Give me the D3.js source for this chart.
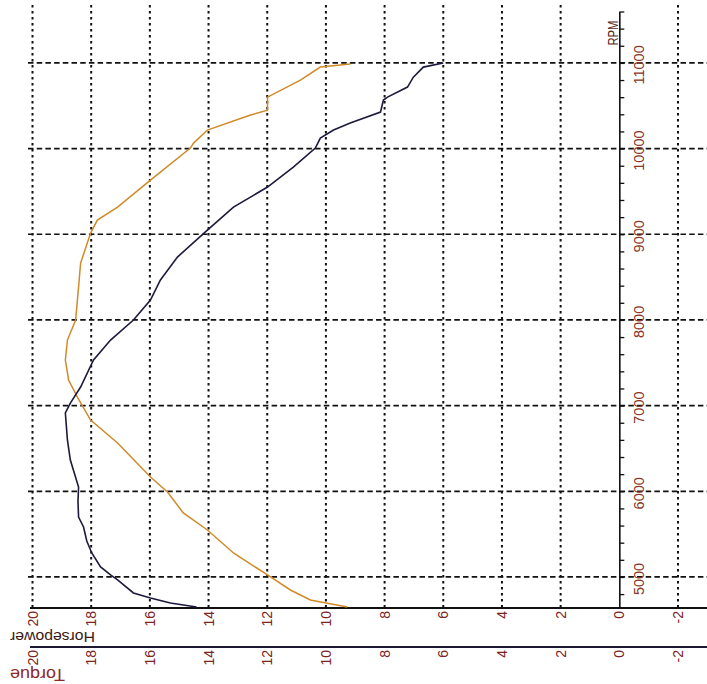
<!DOCTYPE html>
<html>
<head>
<meta charset="utf-8">
<script src="https://cdn.jsdelivr.net/npm/d3@7"></script>
<style>
    body { margin: 0; background: #fff; }
    text { font-family: "Liberation Sans", Arial, sans-serif; }
</style>
</head>
<body>
<div class="svg"></div>
<script>
// dyno sheet, scanned sideways: RPM runs up the page, values run right to left
var torqueRpm = [4650, 4697, 4755, 4813, 4965, 5023, 5117, 5280, 5420, 5583, 5700, 5880, 6050, 6365, 6599, 6914, 7030, 7217, 7532, 7765, 7999, 8232, 8466, 8734, 9049, 9317, 9551, 9784, 10006, 10123, 10216, 10298, 10426, 10566, 10601, 10718, 10834, 10951, 10998];
var torqueVal = [14.41, 15.3, 15.98, 16.56, 17.10, 17.34, 17.68, 17.98, 18.15, 18.26, 18.43, 18.45, 18.43, 18.71, 18.81, 18.88, 18.71, 18.36, 17.92, 17.34, 16.56, 15.98, 15.64, 15.06, 14.04, 13.15, 11.99, 11.11, 10.36, 10.19, 9.74, 9.17, 8.14, 8.04, 7.90, 7.22, 7.02, 6.68, 6.00];

var hpRpm = [4650, 4732, 4848, 5023, 5280, 5548, 5747, 5992, 6167, 6564, 6832, 7100, 7299, 7532, 7765, 7999, 8232, 8384, 8664, 9014, 9166, 9317, 9632, 10006, 10064, 10216, 10391, 10449, 10601, 10799, 10951, 10986];
var hpVal = [9.27, 10.53, 11.21, 11.99, 13.15, 14.04, 14.86, 15.40, 15.98, 17.10, 18.02, 18.47, 18.77, 18.88, 18.81, 18.53, 18.47, 18.43, 18.36, 18.02, 17.79, 17.10, 15.98, 14.62, 14.51, 14.04, 12.57, 11.99, 11.99, 10.87, 10.19, 9.17];

var valueTicks = [20, 18, 16, 14, 12, 10, 8, 6, 4, 2, 0, -2];
var rpmTicks = [5000, 6000, 7000, 8000, 9000, 10000, 11000];

var width = 707,
    height = 684;

var x = d3.scaleLinear()
    .domain([20, -2])
    .range([32.5, 678]);

var y = d3.scaleLinear()
    .domain([4640, 11600])
    .range([607.8, 11.5]);

var svg = d3.select('div.svg')
    .append('svg')
    .attr('width', width)
    .attr('height', height)
    .style('background', '#fff');

var hpAxisY = 608,
    tqAxisY = 647,
    labelColor = '#7a2424';

// vertical dotted grid
svg.append('g')
    .selectAll('line')
    .data(valueTicks.filter(d => d != 0))
    .enter()
    .append('line')
    .attr('x1', d => x(d))
    .attr('x2', d => x(d))
    .attr('y1', 5)
    .attr('y2', hpAxisY)
    .attr('stroke', '#111')
    .attr('stroke-width', 2)
    .attr('stroke-dasharray', '2.6,3.4');

// horizontal dashed grid
svg.append('g')
    .selectAll('line')
    .data(rpmTicks)
    .enter()
    .append('line')
    .attr('x1', 28)
    .attr('x2', width)
    .attr('y1', d => y(d))
    .attr('y2', d => y(d))
    .attr('stroke', '#111')
    .attr('stroke-width', 1.7)
    .attr('stroke-dasharray', '5.5,3.2');

// RPM axis
var rpmAxis = d3.axisRight(y)
    .tickValues(d3.range(4800, 11601, 200))
    .tickSize(5)
    .tickSizeOuter(0)
    .tickFormat('');

var rpmG = svg.append('g')
    .attr('transform', 'translate(' + x(0) + ',0)')
    .call(rpmAxis);
rpmG.select('.domain').attr('stroke', '#111').attr('stroke-width', 1.6);
rpmG.selectAll('.tick line').attr('stroke', '#111').attr('stroke-width', 1.3);

svg.append('g')
    .selectAll('text')
    .data(rpmTicks)
    .enter()
    .append('text')
    .attr('transform', d => 'translate(' + (x(0) + 24.5) + ',' + (y(d) + 2) + ') rotate(-90)')
    .attr('text-anchor', 'middle')
    .attr('font-size', 14.5)
    .attr('fill', '#8a3526')
    .text(d => d);

svg.append('text')
    .attr('transform', 'translate(' + (x(0) - 1) + ',33) rotate(-90)')
    .attr('text-anchor', 'middle')
    .attr('font-size', 15)
    .attr('textLength', 25)
    .attr('lengthAdjust', 'spacingAndGlyphs')
    .attr('fill', '#5a2a20')
    .text('RPM');

// horsepower and torque axes along the bottom
[hpAxisY, tqAxisY].forEach(function (ay) {
    svg.append('line')
        .attr('x1', 30)
        .attr('x2', width)
        .attr('y1', ay)
        .attr('y2', ay)
        .attr('stroke', ay == tqAxisY ? '#1e1830' : '#111')
        .attr('stroke-width', 2);

    svg.append('g')
        .selectAll('text')
        .data(valueTicks)
        .enter()
        .append('text')
        .attr('transform', d => 'translate(' + (x(d) + 5) + ',' + (ay + 3) + ') rotate(-90)')
        .attr('text-anchor', 'end')
        .attr('font-size', 14)
        .attr('fill', labelColor)
        .text(d => d);
});

svg.append('text')
    .attr('transform', 'translate(95,632) rotate(180)')
    .attr('text-anchor', 'start')
    .attr('font-size', 15.5)
    .attr('textLength', 85)
    .attr('lengthAdjust', 'spacingAndGlyphs')
    .attr('fill', '#3a1a14')
    .text('Horsepower');

svg.append('text')
    .attr('transform', 'translate(65,668.5) rotate(180)')
    .attr('text-anchor', 'start')
    .attr('font-size', 16)
    .attr('textLength', 55)
    .attr('lengthAdjust', 'spacingAndGlyphs')
    .attr('fill', '#8a2a2a')
    .text('Torque');

// curves
var line = d3.line()
    .x(d => x(d[1]))
    .y(d => y(d[0]));

svg.append('path')
    .datum(d3.zip(hpRpm, hpVal))
    .attr('d', line)
    .attr('fill', 'none')
    .attr('stroke', '#d08a28')
    .attr('stroke-width', 1.5);

svg.append('path')
    .datum(d3.zip(torqueRpm, torqueVal))
    .attr('d', line)
    .attr('fill', 'none')
    .attr('stroke', '#1c1a3c')
    .attr('stroke-width', 1.6);
</script>
</body>
</html>
